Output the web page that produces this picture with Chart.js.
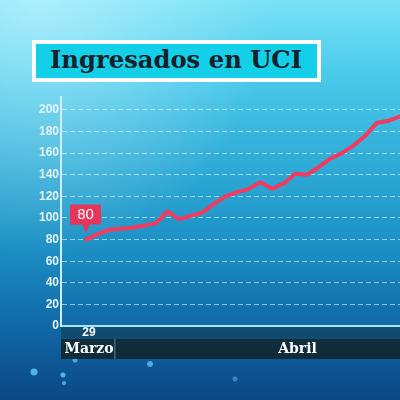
<!DOCTYPE html>
<html>
<head>
<meta charset="utf-8">
<script src="https://cdn.jsdelivr.net/npm/chart.js@4.4.1/dist/chart.umd.min.js"></script>
<style>
  html, body { margin: 0; padding: 0; }
  body {
    width: 400px; height: 400px; overflow: hidden; position: relative;
    background:
      radial-gradient(circle at 34px 372px, rgba(90,190,245,0.9) 0, rgba(90,190,245,0.9) 3px, rgba(90,190,245,0) 4px),
      radial-gradient(circle at 63px 375px, rgba(110,200,245,0.8) 0, rgba(110,200,245,0.8) 2px, rgba(110,200,245,0) 3px),
      radial-gradient(circle at 64px 383px, rgba(110,200,245,0.7) 0, rgba(110,200,245,0.7) 1.5px, rgba(110,200,245,0) 2.5px),
      radial-gradient(circle at 150px 364px, rgba(90,190,245,0.8) 0, rgba(90,190,245,0.8) 2.5px, rgba(90,190,245,0) 3.5px),
      radial-gradient(circle at 235px 379px, rgba(90,170,230,0.6) 0, rgba(90,170,230,0.6) 2px, rgba(90,170,230,0) 3px),
      radial-gradient(circle at 75px 360px, rgba(90,190,245,0.8) 0, rgba(90,190,245,0.8) 2px, rgba(90,190,245,0) 3px),
      radial-gradient(ellipse at 10% 0%, rgba(205,247,255,0.6) 0%, rgba(205,247,255,0) 45%),
      linear-gradient(180deg, #7ae2f7 0%, #4ccbec 18%, #2eaad6 42%, #1a8cc2 64%, #0f64a2 84%, #0b4784 100%);
  }
  #wrap { position: absolute; left: 0; top: 0; width: 400px; height: 400px; }
  #title {
    position: absolute; left: 32px; top: 40px; width: 281px; height: 34px;
    border: 4px solid #ffffff; background: #14cfe8; overflow: hidden;
  }
  #titleText {
    position: absolute; left: 14px; top: 1px; white-space: nowrap;
    font-family: "DejaVu Serif", serif; font-weight: bold; font-size: 25px;
    color: #152029; transform-origin: 0 0;
  }
</style>
</head>
<body>
<div id="wrap"><canvas id="chart" width="400" height="400"></canvas></div>
<div id="title"><span id="titleText">Ingresados en UCI</span></div>
<script>
// Ingresados en UCI, daily from 29 March
const days = [29, 30, 31, 1, 2, 3, 4, 5, 6, 7, 8, 9, 10, 11, 12, 13, 14, 15, 16, 17, 18, 19, 20, 21, 22, 23, 24, 25];
const uci = [80, 85, 89, 90, 91, 93, 95, 106, 99, 102, 105, 113, 120, 124, 127, 133, 127, 132, 141, 140, 147, 155, 160, 167, 176, 188, 190, 194];
const yTicks = [0, 20, 40, 60, 80, 100, 120, 140, 160, 180, 200];
const months = ["Marzo", "Abril"];
const monthStart = [0, 3];   // index of first day of each month
const firstLabel = "29";
const calloutText = "80";

// fit title width
const tt = document.getElementById("titleText");
tt.style.transform = "scaleX(" + (252 / tt.getBoundingClientRect().width) + ")";

// month bands + callout
const overlay = {
  id: "overlay",
  afterDraw(chart) {
    const ctx = chart.ctx;
    const x = chart.scales.x;
    const area = chart.chartArea;
    ctx.save();
    // day strip
    ctx.fillStyle = "rgba(18,52,64,0.5)";
    ctx.fillRect(area.left, area.bottom + 1, 400 - area.left, 12);
    // month band
    ctx.fillStyle = "rgba(17,38,46,0.88)";
    ctx.fillRect(area.left, area.bottom + 13, 400 - area.left, 20);
    ctx.fillStyle = "#ffffff";
    ctx.font = "bold 12px 'Liberation Sans', sans-serif";
    ctx.textAlign = "center";
    ctx.textBaseline = "middle";
    ctx.fillText(firstLabel, x.getPixelForValue(0) + 3, area.bottom + 7);
    ctx.font = "bold 14px 'DejaVu Serif', serif";
    months.forEach((m, i) => {
      const a = i === 0 ? area.left : x.getPixelForValue(monthStart[i] - 0.5);
      const b = i + 1 < months.length ? x.getPixelForValue(monthStart[i + 1] - 0.5) : 480;
      if (i > 0) {
        ctx.fillStyle = "rgba(90,130,140,0.7)";
        ctx.fillRect(a - 1, area.bottom + 13, 1.5, 20);
      }
      ctx.fillStyle = "#ffffff";
      ctx.fillText(m, (a + b) / 2 + (i === 0 ? 1 : 0), area.bottom + 23.5);
    });
    // callout on first point
    const pt = chart.getDatasetMeta(0).data[0];
    const px = pt.x, py = pt.y;
    ctx.fillStyle = "#e8365a";
    ctx.fillRect(px - 16, py - 35, 31, 20);
    ctx.beginPath();
    ctx.moveTo(px - 4, py - 16);
    ctx.lineTo(px + 4, py - 16);
    ctx.lineTo(px, py - 6);
    ctx.closePath();
    ctx.fill();
    ctx.fillStyle = "#ffffff";
    ctx.font = "15px 'Liberation Sans', sans-serif";
    ctx.fillText(calloutText, px - 0.5, py - 24.5);
    ctx.restore();
  }
};

new Chart(document.getElementById("chart"), {
  type: "line",
  data: {
    datasets: [{
      data: uci.map((v, i) => ({ x: i, y: v })),
      borderColor: "#f43a5f",
      borderWidth: 4,
      pointRadius: 0,
      tension: 0,
      borderJoinStyle: "round",
      borderCapStyle: "round"
    }]
  },
  options: {
    responsive: false,
    animation: false,
    events: [],
    layout: { padding: { left: 0, top: 97, right: 0, bottom: 0 } },
    plugins: { legend: { display: false }, tooltip: { enabled: false } },
    scales: {
      x: {
        type: "linear",
        min: -2.15,
        max: days.length - 1,
        ticks: { display: false },
        grid: { display: false },
        border: { display: true, color: "#9fe6f4", width: 2 },
        afterFit: s => { s.height = 74; }
      },
      y: {
        min: 0,
        max: 212,
        afterBuildTicks: s => { s.ticks = yTicks.map(v => ({ value: v })); },
        ticks: {
          color: "#e6f2f5",
          padding: 2,
          font: { family: "'Liberation Sans', sans-serif", size: 12, weight: "bold" }
        },
        grid: { color: "rgba(225,245,252,0.62)", lineWidth: 1, drawTicks: false },
        border: { display: true, color: "#cfeef6", width: 2, dash: [5, 3] },
        afterFit: s => { s.width = 61; }
      }
    }
  },
  plugins: [overlay]
});
</script>
</body>
</html>
